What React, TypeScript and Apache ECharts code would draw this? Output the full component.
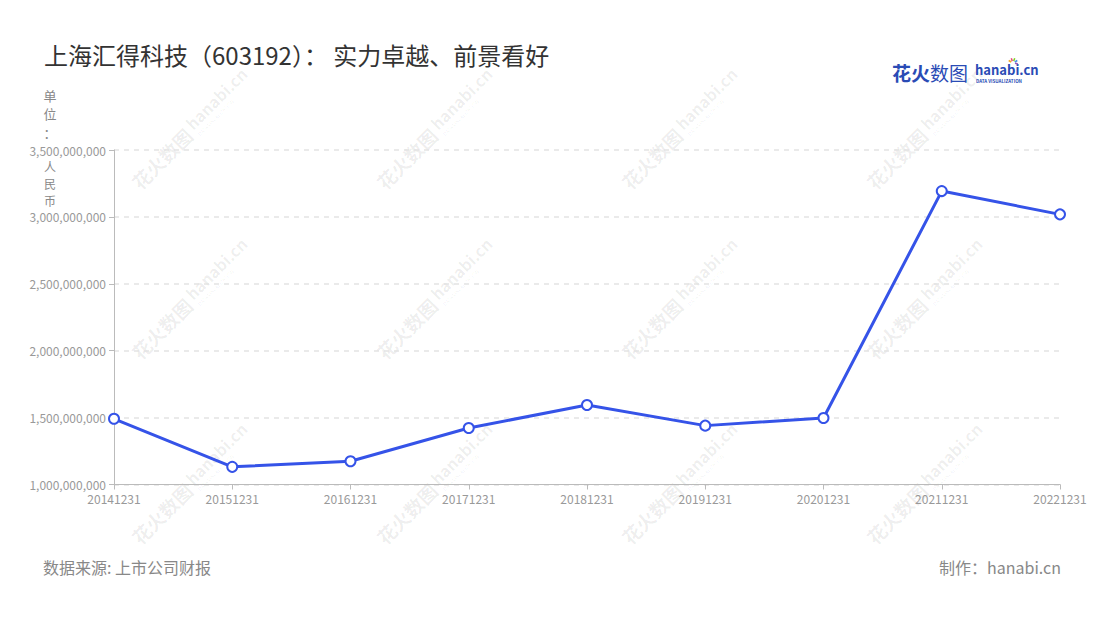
import React, { useEffect, useRef } from "react";
import * as echarts from "echarts";

const categories = ["20141231", "20151231", "20161231", "20171231", "20181231", "20191231", "20201231", "20211231", "20221231"];
const values = [1491000000, 1132000000, 1174000000, 1422000000, 1594000000, 1440000000, 1497000000, 3193000000, 3019000000];
const titleText = "上海汇得科技（603192）： 实力卓越、前景看好";
const unitTop = "单位：";
const unitBottom = "人民币";
const sourceText = "数据来源: 上市公司财报";
const makerText = "制作：hanabi.cn";

const FONT = "'Noto Sans CJK SC', 'Noto Sans', sans-serif";

const wmCenters: [number, number][] = [];
[170, 415, 660, 905].forEach((x) => {
  [150, 320, 505].forEach((y) => wmCenters.push([x, y]));
});

function watermark(cx: number, cy: number) {
  return {
    type: "group",
    x: cx,
    y: cy,
    rotation: Math.PI / 4,
    silent: true,
    children: [
      {
        type: "text",
        x: -50,
        y: 0,
        style: { text: "花火数图", fill: "rgba(0,0,0,0.07)", font: `bold 19px ${FONT}`, verticalAlign: "middle" },
      },
      {
        type: "text",
        x: 30,
        y: -4,
        style: { text: "hanabi.cn", fill: "rgba(0,0,0,0.07)", font: `bold 16px ${FONT}`, verticalAlign: "middle" },
      },
      {
        type: "text",
        x: 31,
        y: 9,
        style: { text: "DATA VISUALIZATION", fill: "rgba(0,0,0,0.07)", font: `5px ${FONT}`, verticalAlign: "middle" },
      },
    ],
  };
}

export default function App() {
  const ref = useRef<HTMLDivElement>(null);
  useEffect(() => {
    document.body.style.margin = "0";
    const chart = echarts.init(ref.current!, null, { renderer: "svg" });
    chart.setOption({
      animation: false,
      backgroundColor: "#fff",
      textStyle: { fontFamily: FONT },
      title: {
        text: titleText,
        left: 39,
        top: 37,
        textStyle: { fontSize: 24, fontWeight: "normal", color: "#333", fontFamily: FONT },
      },
      grid: { left: 114, right: 40, top: 150, bottom: 135.5, containLabel: false },
      xAxis: {
        type: "category",
        data: categories,
        boundaryGap: false,
        axisLine: { lineStyle: { color: "#bbb" } },
        axisTick: { show: true, alignWithLabel: true, lineStyle: { color: "#bbb" } },
        axisLabel: { color: "#999", fontSize: 12, margin: 8, fontFamily: FONT },
      },
      yAxis: {
        type: "value",
        min: 1000000000,
        max: 3500000000,
        interval: 500000000,
        axisLine: { show: true, lineStyle: { color: "#bbb" } },
        axisTick: { show: true, lineStyle: { color: "#bbb" } },
        axisLabel: {
          color: "#999",
          fontSize: 12,
          margin: 8,
          fontFamily: FONT,
          formatter: (v: number) => v.toLocaleString("en-US"),
        },
        splitLine: { lineStyle: { color: "#e3e3e3", type: [5, 5], width: 1.5 } },
      },
      series: [
        {
          type: "line",
          data: values,
          symbol: "circle",
          symbolSize: 10,
          lineStyle: { color: "#3553E8", width: 3 },
          itemStyle: { color: "#fff", borderColor: "#3553E8", borderWidth: 2 },
        },
      ],
      graphic: [
        ...wmCenters.map(([x, y]) => watermark(x, y)),
        {
          type: "text",
          x: 50,
          y: 86,
          style: {
            text: unitTop.split("").join("\n"),
            fill: "#888",
            font: `13px ${FONT}`,
            lineHeight: 18.5,
            align: "center",
          },
        },
        {
          type: "text",
          x: 50,
          y: 158,
          style: {
            text: unitBottom.split("").join("\n"),
            fill: "#888",
            font: `12px ${FONT}`,
            lineHeight: 17,
            align: "center",
          },
        },
        {
          type: "text",
          x: 892,
          y: 72,
          style: { text: "花火", fill: "#2a4bb5", font: `bold 19px ${FONT}`, verticalAlign: "middle" },
        },
        {
          type: "text",
          x: 930,
          y: 72,
          style: { text: "数图", fill: "#2a4bb5", font: `19px ${FONT}`, verticalAlign: "middle" },
        },
        {
          type: "text",
          x: 975,
          y: 69,
          style: { text: "hanabi.cn", fill: "#2a4bb5", font: `bold 13px ${FONT}`, verticalAlign: "middle", lineHeight: 13 },
        },
        {
          type: "text",
          x: 976,
          y: 81,
          style: { text: "DATA VISUALIZATION", fill: "#2a4bb5", font: `bold 4.5px ${FONT}`, verticalAlign: "middle", lineHeight: 5 },
        },
        ...[["#f5a623", -60], ["#e94e77", -20], ["#7ed321", 20], ["#4a90e2", 60], ["#9b59b6", 100]].map(([c, a]) => {
          const ang = ((a as number) - 90) * Math.PI / 180;
          return {
            type: "line",
            shape: { x1: 1013 + Math.cos(ang) * 2, y1: 63 + Math.sin(ang) * 2, x2: 1013 + Math.cos(ang) * 5, y2: 63 + Math.sin(ang) * 5 },
            style: { stroke: c as string, lineWidth: 1.5 },
          };
        }),
        {
          type: "text",
          x: 43,
          y: 567,
          style: { text: sourceText, fill: "#888", font: `16px ${FONT}`, verticalAlign: "middle" },
        },
        {
          type: "text",
          x: 1061,
          y: 567,
          style: { text: makerText, fill: "#888", font: `16px ${FONT}`, verticalAlign: "middle", align: "right" },
        },
      ],
    });
    return () => chart.dispose();
  }, []);
  return <div ref={ref} style={{ width: 1100, height: 620 }} />;
}
